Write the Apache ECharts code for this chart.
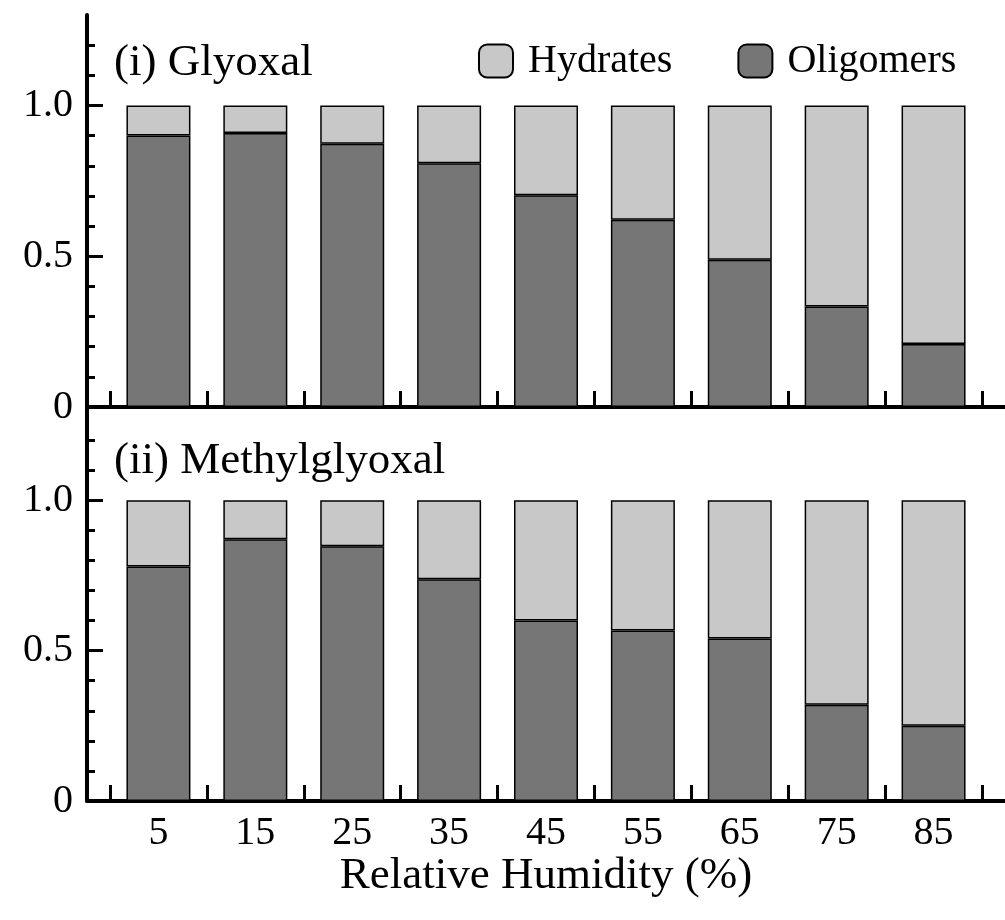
<!DOCTYPE html>
<html>
<head>
<meta charset="utf-8">
<script src="https://cdn.jsdelivr.net/npm/echarts@6/dist/echarts.min.js"></script>
<style>html,body{margin:0;padding:0;background:#fff;}#c{width:1005px;height:920px;}</style>
</head>
<body>
<div id="c"></div>
<script>
const categories = ['5','15','25','35','45','55','65','75','85'];
const glyoxalOligomers = [0.900, 0.909, 0.873, 0.808, 0.702, 0.621, 0.488, 0.333, 0.209];
const glyoxalHydrates  = [0.100, 0.091, 0.127, 0.192, 0.298, 0.379, 0.512, 0.667, 0.791];
const mglyOligomers = [0.780, 0.870, 0.847, 0.737, 0.600, 0.567, 0.540, 0.320, 0.250];
const mglyHydrates  = [0.220, 0.130, 0.153, 0.263, 0.400, 0.433, 0.460, 0.680, 0.750];
const majorTicks = [0, 0.5, 1.0];
const minorTicks = [0.1, 0.2, 0.3, 0.4, 0.6, 0.7, 0.8, 0.9, 1.1, 1.2];
const panelTitles = ['(i) Glyoxal', '(ii) Methylglyoxal'];
const xTitle = 'Relative Humidity (%)';

const FONT = '"Liberation Serif", "DejaVu Serif", serif';
const HYD = '#c8c8c8', OLI = '#767676';
const chart = echarts.init(document.getElementById('c'));

const panels = [
  {top: 15, height: 392, max: 1.3},
  {top: 407, height: 394, max: 1.31}
];
const grids = [], xAxes = [], yAxes = [], series = [];
panels.forEach((p, i) => {
  const outer = grids.length;
  grids.push({left: 87, right: 0, top: p.top, height: p.height});
  const inner = grids.length;
  grids.push({left: 110, right: 23, top: p.top, height: p.height});
  xAxes.push({type: 'value', gridIndex: outer, min: 0, max: 1, position: 'bottom',
    axisLine: {show: true, lineStyle: {color: '#000', width: 4}},
    axisTick: {show: false}, axisLabel: {show: false}, splitLine: {show: false}});
  if (i === 0) {
    xAxes.push({type: 'value', gridIndex: outer, min: 0, max: 1, position: 'top',
      axisLine: {show: true, lineStyle: {color: '#000', width: 4}},
      axisTick: {show: false}, axisLabel: {show: false}, splitLine: {show: false}});
  }
  const innerX = xAxes.length;
  xAxes.push({type: 'category', gridIndex: inner, data: categories, boundaryGap: true,
    axisLine: {show: false},
    axisTick: {show: true, inside: true, length: 16, alignWithLabel: false, lineStyle: {color: '#000', width: 3}},
    axisLabel: {show: i === 1, fontSize: 40, fontFamily: FONT, color: '#000', margin: 12},
    splitLine: {show: false},
    name: i === 1 ? xTitle : '', nameLocation: 'middle', nameGap: 52,
    nameTextStyle: {fontSize: 45, fontFamily: FONT, color: '#000'}});
  yAxes.push({type: 'value', gridIndex: outer, min: 0, max: p.max, position: 'left',
    axisLine: {show: true, lineStyle: {color: '#000', width: 4}},
    axisTick: {show: true, inside: true, length: 16, customValues: majorTicks, lineStyle: {color: '#000', width: 3}},
    axisLabel: {show: true, customValues: majorTicks, fontSize: 40, fontFamily: FONT, color: '#000', margin: 14,
      formatter: v => v === 0 ? '0' : v.toFixed(1)},
    splitLine: {show: false}});
  yAxes.push({type: 'value', gridIndex: outer, min: 0, max: p.max, position: 'left',
    axisLine: {show: false},
    axisTick: {show: true, inside: true, length: 8, customValues: minorTicks, lineStyle: {color: '#000', width: 3}},
    axisLabel: {show: false}, splitLine: {show: false}});
  const innerY = yAxes.length;
  yAxes.push({type: 'value', gridIndex: inner, min: 0, max: p.max, show: false,
    axisLine: {show: false}, axisTick: {show: false}, axisLabel: {show: false}, splitLine: {show: false}});
  const oli = i === 0 ? glyoxalOligomers : mglyOligomers;
  const hyd = i === 0 ? glyoxalHydrates : mglyHydrates;
  series.push({type: 'bar', name: 'Oligomers', xAxisIndex: innerX, yAxisIndex: innerY, stack: 's' + i,
    data: oli, barWidth: 64, itemStyle: {color: OLI, borderColor: '#000', borderWidth: 1.5}});
  series.push({type: 'bar', name: 'Hydrates', xAxisIndex: innerX, yAxisIndex: innerY, stack: 's' + i,
    data: hyd, barWidth: 64, itemStyle: {color: HYD, borderColor: '#000', borderWidth: 1.5}});
});

chart.setOption({
  animation: false,
  backgroundColor: '#fff',
  grid: grids, xAxis: xAxes, yAxis: yAxes, series: series,
  title: [
    {text: panelTitles[0], left: 114, top: 41, padding: 0, textStyle: {fontSize: 45, fontFamily: FONT, color: '#000', fontWeight: 'normal'}},
    {text: panelTitles[1], left: 114, top: 439, padding: 0, textStyle: {fontSize: 45, fontFamily: FONT, color: '#000', fontWeight: 'normal'}}
  ],
  legend: {data: ['Hydrates', 'Oligomers'], left: 478, top: 41, padding: 0, icon: 'roundRect',
    itemWidth: 34, itemHeight: 33, itemGap: 65,
    formatter: '{t|{name}}',
    textStyle: {fontSize: 40, fontFamily: FONT, color: '#000',
      rich: {t: {fontSize: 40, fontFamily: FONT, color: '#000', padding: [0, 0, 0, 10]}}}}
});
</script>
</body>
</html>
